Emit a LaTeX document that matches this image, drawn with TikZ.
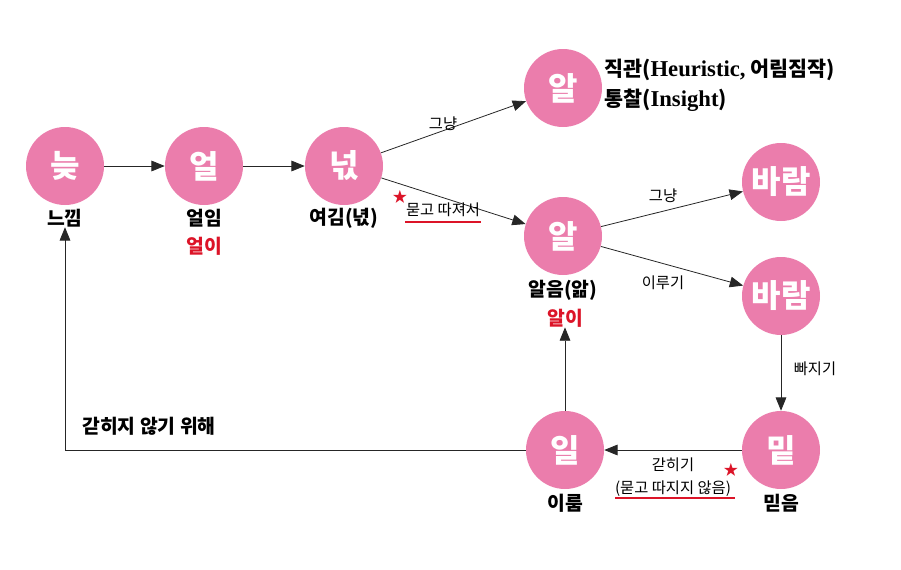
\documentclass[tikz,border=0pt]{standalone}
\usepackage{fontspec}
\setmainfont{Noto Sans CJK KR}
\newfontfamily\latserif{Liberation Serif}
\usetikzlibrary{arrows.meta}
\definecolor{pinkc}{RGB}{235,125,172}
\definecolor{redc}{RGB}{220,20,40}
\tikzset{
  circ/.style={circle,fill=pinkc,minimum size=58.5pt,inner sep=0pt,text=white,font=\fontsize{24}{24}\selectfont\bfseries},
  lab/.style={font=\fontsize{14.5}{16}\selectfont\bfseries,inner sep=0pt},
  redlab/.style={lab,text=redc},
  toplab/.style={font=\fontsize{15.5}{17}\selectfont\bfseries,inner sep=0pt},
  small/.style={font=\fontsize{11.5}{13}\selectfont,inner sep=0pt},
  arr/.style={-{Triangle[length=10pt,width=8pt]},line width=0.6pt,draw=black!85},
  uline/.style={draw=redc,line width=1.2pt},
  star/.style={text=redc,font=\fontsize{11}{11}\selectfont,inner sep=0pt}
}
\begin{document}
\begin{tikzpicture}[x=0.75pt,y=-0.75pt]
\useasboundingbox (0,0) rectangle (901,569);
% circles
\node[circ] (n1) at (65,166) {늦};
\node[circ] (n2) at (204,166) {얼};
\node[circ] (n3) at (344,166) {넋};
\node[circ] (a1) at (563,88) {알};
\node[circ] (a2) at (563,236) {알};
\node[circ] (b1) at (781,182) {바람};
\node[circ] (b2) at (781,296) {바람};
\node[circ] (m) at (781,450) {밑};
\node[circ] (i) at (565,450) {일};
% labels under circles
\node[lab] (l1) at (65,218) {느낌};
\node[lab] (l2) at (204,218) {얼임};
\node[redlab] (l2r) at (204,246) {얼이};
\node[lab] (l3) at (344,218) {여김(녃)};
\node[lab] (l4) at (563,290) {알음(앎)};
\node[redlab] (l4r) at (565,318) {알이};
\node[lab] (l5) at (565,503) {이룸};
\node[lab] (l6) at (781,503) {믿음};
\node[toplab,anchor=west] (t1) at (604,70) {직관({\latserif\bfseries\fontsize{17}{17}\selectfont Heuristic,} 어림짐작)};
\node[toplab,anchor=west] (t2) at (604,100) {통찰({\latserif\bfseries\fontsize{17}{17}\selectfont Insight})};
% arrows
\draw[arr] (n1) -- (n2);
\draw[arr] (n2) -- (n3);
\draw[arr] (n3) -- (a1);
\draw[arr] (n3) -- (a2);
\draw[arr] (a2) -- (b1);
\draw[arr] (a2) -- (b2);
\draw[arr] (b2) -- (m);
\draw[arr] (m) -- (i);
\draw[arr] (i) -- (l4r);
\coordinate (c1) at (65,450);
\draw[arr] (i.west) -- (c1) -- (l1);
% arrow labels
\node[small] (g1) at (443,124) {그냥};
\node[small] (g2) at (443,210) {묻고 따져서};
\draw[uline] (405,222) -- (481,222);
\node[star] (s1) at (400,197) {★};
\node[small] (g3) at (663,196) {그냥};
\node[small] (g4) at (663,283) {이루기};
\node[small] (g5) at (815,369) {빠지기};
\node[small] (g6) at (673,465) {갇히기};
\node[small] (g7) at (673,489) {(묻고 따지지 않음)};
\draw[uline] (615,498) -- (735,498);
\node[star] (s2) at (731,470) {★};
\node[lab] (g8) at (149,426) {갇히지 않기 위해};
\end{tikzpicture}
\end{document}
